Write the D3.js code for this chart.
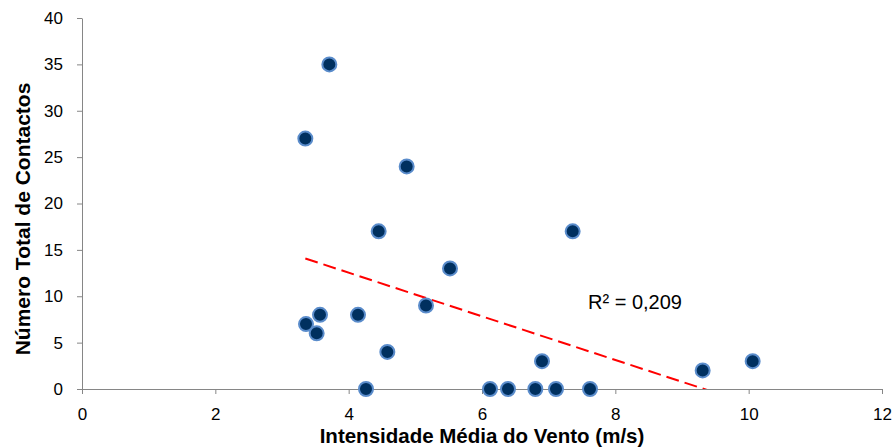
<!DOCTYPE html>
<html>
<head>
<meta charset="utf-8">
<script src="https://cdn.jsdelivr.net/npm/d3@7"></script>
<style>
  body { margin: 0; background: #fff; }
  text { font-family: "Liberation Sans", Arial, sans-serif; }
</style>
</head>
<body>
<div class="canva"></div>
<script>
// wind speed (m/s) and total contacts
const windSpeed = [3.35, 3.71, 3.36, 3.57, 3.52, 4.14, 4.26, 4.45, 4.58, 4.87, 5.16,
                   5.52, 6.12, 6.39, 6.80, 6.90, 7.11, 7.36, 7.62, 9.31, 10.06];
const contacts  = [27, 35, 7, 8, 6, 8, 0, 17, 4, 24, 9,
                   13, 0, 0, 0, 3, 0, 17, 0, 2, 3];
const xTicks = [0, 2, 4, 6, 8, 10, 12];
const yTicks = [0, 5, 10, 15, 20, 25, 30, 35, 40];
const r2Label = 'R² = 0,209';

const width = 896, height = 448;
const margin = {top: 18, right: 14, bottom: 59, left: 82};

const svg = d3.select('.canva').append('svg')
    .attr('width', width)
    .attr('height', height);

const x = d3.scaleLinear().domain([0, 12]).range([margin.left, width - margin.right]);
const y = d3.scaleLinear().domain([0, 40]).range([height - margin.bottom, margin.top]);

const points = windSpeed.map((d, i) => ({x: d, y: contacts[i]}));

// axes
const gx = svg.append('g')
    .attr('transform', `translate(0,${y(0)})`)
    .call(d3.axisBottom(x).tickValues(xTicks).tickSize(5).tickPadding(14).tickSizeOuter(0));
const gy = svg.append('g')
    .attr('transform', `translate(${x(0)},0)`)
    .call(d3.axisLeft(y).tickValues(yTicks).tickSize(5).tickPadding(14).tickSizeOuter(0));

[gx, gy].forEach(g => {
    g.select('.domain').attr('stroke', '#868686');
    g.selectAll('.tick line').attr('stroke', '#868686');
    g.selectAll('.tick text')
        .attr('fill', '#000')
        .style('font-size', '17px')
        .style('font-family', '"Liberation Sans", Arial, sans-serif');
});

// linear trendline (least squares)
const mx = d3.mean(windSpeed), my = d3.mean(contacts);
let sxy = 0, sxx = 0;
points.forEach(p => {
    sxy += (p.x - mx) * (p.y - my);
    sxx += (p.x - mx) ** 2;
});
const slope = sxy / sxx;
const intercept = my - slope * mx;

svg.append('clipPath').attr('id', 'plot')
  .append('rect')
    .attr('x', x(0)).attr('y', y(40))
    .attr('width', x(12) - x(0)).attr('height', y(0) - y(40));

const xmin = d3.min(windSpeed), xmax = d3.max(windSpeed);
svg.append('line')
    .attr('clip-path', 'url(#plot)')
    .attr('x1', x(xmin)).attr('y1', y(intercept + slope * xmin))
    .attr('x2', x(xmax)).attr('y2', y(intercept + slope * xmax))
    .attr('stroke', '#ff0000')
    .attr('stroke-width', 2)
    .attr('stroke-dasharray', '13,6');

// markers
svg.selectAll('circle')
    .data(points)
    .enter()
    .append('circle')
    .attr('cx', d => x(d.x))
    .attr('cy', d => y(d.y))
    .attr('r', 7)
    .attr('fill', '#00305f')
    .attr('stroke', '#5a8ccb')
    .attr('stroke-width', 2);

svg.append('text')
    .attr('x', 588)
    .attr('y', 309)
    .style('font-size', '20px')
    .text(r2Label);

// axis titles
svg.append('text')
    .attr('x', (x(0) + x(12)) / 2)
    .attr('y', 443)
    .attr('text-anchor', 'middle')
    .style('font-size', '20.5px')
    .style('font-weight', 'bold')
    .text('Intensidade Média do Vento (m/s)');

svg.append('text')
    .attr('transform', 'translate(30,219) rotate(-90)')
    .attr('text-anchor', 'middle')
    .style('font-size', '21px')
    .style('font-weight', 'bold')
    .text('Número Total de Contactos');
</script>
</body>
</html>
